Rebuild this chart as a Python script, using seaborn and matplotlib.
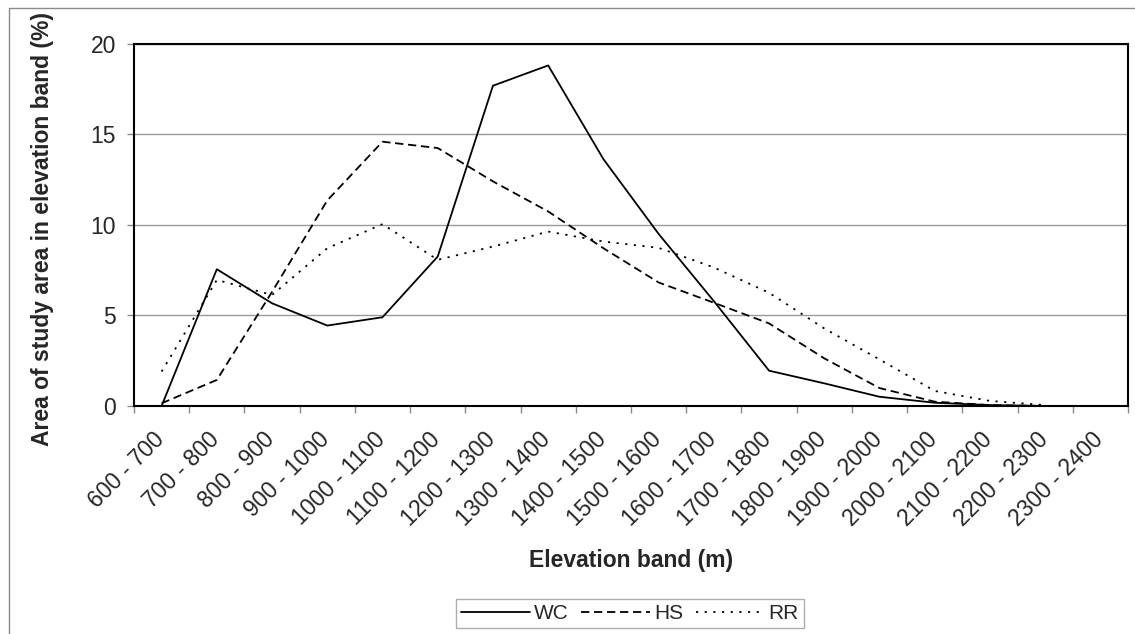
import numpy as np
import pandas as pd
import matplotlib
matplotlib.use("Agg")
import matplotlib.pyplot as plt
import matplotlib.transforms as mtransforms
from matplotlib.lines import Line2D
from matplotlib.ticker import FixedLocator
import seaborn as sns

# Elevation bands (m) and share of study area per band (%)
bands = ["600 - 700", "700 - 800", "800 - 900", "900 - 1000", "1000 - 1100",
         "1100 - 1200", "1200 - 1300", "1300 - 1400", "1400 - 1500",
         "1500 - 1600", "1600 - 1700", "1700 - 1800", "1800 - 1900",
         "1900 - 2000", "2000 - 2100", "2100 - 2200", "2200 - 2300",
         "2300 - 2400"]
wc = [0.0, 7.55, 5.67, 4.44, 4.90, 8.25, 17.68, 18.80, 13.63, 9.50, 5.79,
      1.95, 1.25, 0.51, 0.18, 0.05, 0.0, np.nan]
hs = [0.15, 1.44, 6.30, 11.35, 14.59, 14.24, 12.40, 10.74, 8.71, 6.82, 5.70,
      4.56, 2.63, 0.99, 0.24, 0.05, 0.0, np.nan]
rr = [1.90, 6.96, 6.13, 8.71, 10.04, 8.07, 8.80, 9.63, 9.08, 8.73, 7.65,
      6.25, 4.28, 2.57, 0.83, 0.28, 0.05, np.nan]
series_names = ["WC", "HS", "RR"]
y_ticks = [0, 5, 10, 15, 20]

sns.set_theme(style="white")
plt.rcParams["font.family"] = ["Liberation Sans", "DejaVu Sans"]

W, H = 1135, 634
fig = plt.figure(figsize=(W / 100, H / 100), dpi=100)
ax = fig.add_axes([134 / W, 1 - 406 / H, 994 / W, 362.3 / H])

pos = np.arange(len(bands))
LW = 1.3
styles = {
    "WC": dict(ls="-"),
    "HS": dict(ls=(0, (4.6, 2.6))),
    "RR": dict(ls=(0, (1.2, 3.6))),
}
for name, vals in zip(series_names, [wc, hs, rr]):
    df = pd.DataFrame({"pos": pos, "pct": vals})
    sns.lineplot(data=df, x="pos", y="pct", ax=ax, color="black", lw=LW,
                 label=name, **styles[name])

ax.set_xlim(-0.5, len(bands) - 0.5)
ax.set_ylim(0, 20)
ax.set_yticks(y_ticks)
ax.yaxis.grid(True, color="#9a9a9a", lw=1.0)
ax.xaxis.grid(False)
ax.set_xlabel("")
ax.set_ylabel("")

# category labels at band centres, tick marks at band boundaries
ax.set_xticks(pos)
ax.set_xticklabels(bands, rotation=45, ha="right", va="top",
                   rotation_mode="anchor", fontsize=16.5)
ax.xaxis.set_minor_locator(FixedLocator(np.arange(len(bands) + 1) - 0.5))
ax.tick_params(axis="x", which="major", length=0, pad=16)
ax.tick_params(axis="x", which="minor", bottom=True, length=5, width=1,
               color="#8a8a8a", direction="out")
ax.tick_params(axis="y", left=True, length=5, width=1, color="#8a8a8a",
               direction="out", pad=8, labelsize=16.5)
shift = mtransforms.ScaledTranslation(-9 / 100, 0, fig.dpi_scale_trans)
for lab in ax.get_xticklabels():
    lab.set_transform(lab.get_transform() + shift)

for sp in ax.spines.values():
    sp.set_visible(True)
    sp.set_color("black")
    sp.set_linewidth(1.5)

ax.get_legend().remove()

fig.text(43 / W, 1 - 229 / H, "Area of study area in elevation band (%)",
         rotation=90, ha="center", va="center", fontsize=16.5,
         fontweight="bold")
fig.text(631 / W, 1 - 560 / H, "Elevation band (m)", ha="center",
         va="center", fontsize=16.5, fontweight="bold")

handles = [Line2D([], [], color="black", lw=LW, **styles[n]) for n in series_names]
leg = fig.legend(handles, series_names, loc="center",
                 bbox_to_anchor=(630 / W, 1 - 613.5 / H), ncol=3,
                 fontsize=15, handlelength=3.3, handletextpad=0.2,
                 columnspacing=0.6, frameon=True, fancybox=False,
                 borderpad=0.25, borderaxespad=0)
leg.get_frame().set_edgecolor("#9a9a9a")
leg.get_frame().set_linewidth(1.0)

# outer chart border (left and top edges visible)
fig.add_artist(Line2D([9 / W, 9 / W], [0, 1 - 8 / H], transform=fig.transFigure,
                      color="#8a8a8a", lw=1.0))
fig.add_artist(Line2D([9 / W, 1], [1 - 8 / H, 1 - 8 / H], transform=fig.transFigure,
                      color="#8a8a8a", lw=1.0))

fig.savefig("out.png", dpi=100)
